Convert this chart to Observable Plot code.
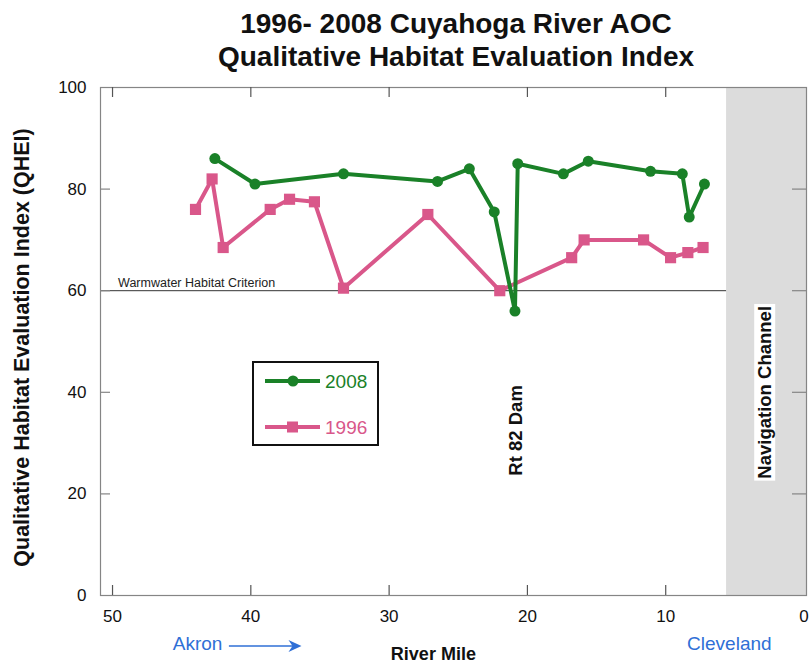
<!DOCTYPE html>
<html>
<head>
<meta charset="utf-8">
<script src="https://cdn.jsdelivr.net/npm/d3@7"></script>
<script src="https://cdn.jsdelivr.net/npm/@observablehq/plot@0.6"></script>
<style>
  body { margin: 0; background: #fff; font-family: "Liberation Sans", Arial, sans-serif; }
  #wrap { position: relative; width: 809px; height: 665px; }
  #title { position: absolute; left: 106px; width: 700px; top: 7px; text-align: center;
           font-weight: bold; font-size: 28px; line-height: 33px; color: #111; }
  #chart { position: absolute; left: 0; top: 0; }
</style>
</head>
<body>
<div id="wrap">
  <div id="chart"></div>
  <div id="title">1996- 2008 Cuyahoga River AOC<br>Qualitative Habitat Evaluation Index</div>
</div>
<script>
// QHEI survey results along the Cuyahoga River (river mile vs. score)
const miles2008 = [42.6, 39.7, 33.3, 26.5, 24.2, 22.4, 20.9, 20.7, 17.4, 15.6, 11.1, 8.8, 8.3, 7.2];
const qhei2008  = [86, 81, 83, 81.5, 84, 75.5, 56, 85, 83, 85.5, 83.5, 83, 74.5, 81];

const miles1996 = [44.0, 42.8, 42.0, 38.6, 37.2, 35.4, 33.3, 27.2, 22.0, 16.8, 15.9, 11.6, 9.65, 8.4, 7.3];
const qhei1996  = [76, 82, 68.5, 76, 78, 77.5, 60.5, 75, 60, 66.5, 70, 70, 66.5, 67.5, 68.5];

const xTickLabels = [50, 40, 30, 20, 10, 0];
const yTickLabels = [0, 20, 40, 60, 80, 100];
const xInnerTicks = [50, 40, 30, 20, 10];
const yInnerTicks = [20, 40, 60, 80];

const criterion = 60;            // warmwater habitat criterion
const navChannelStart = 5.6;     // navigation channel, river mile
const damMile = 20.8;            // Rt 82 dam location
const xDomain = [50.87, -0.18];

const green = "#1a8128";
const pink = "#d9578a";
const blue = "#2f6fd6";
const axisGray = "#858585";

const d2008 = miles2008.map((m, i) => ({mile: m, qhei: qhei2008[i]}));
const d1996 = miles1996.map((m, i) => ({mile: m, qhei: qhei1996[i]}));

const plot = Plot.plot({
  width: 809,
  height: 665,
  marginTop: 87,
  marginBottom: 70,
  marginLeft: 100,
  marginRight: 3,
  x: {domain: xDomain},
  y: {domain: [0, 100]},
  style: {fontFamily: "'Liberation Sans', Arial, sans-serif", color: "#111", background: "transparent"},
  marks: [
    // navigation channel band
    Plot.rect([0], {x1: navChannelStart, x2: xDomain[1], y1: 0, y2: 100, fill: "#dcdcdc"}),
    // criterion line
    Plot.ruleY([criterion], {x1: xDomain[0], x2: navChannelStart, stroke: "#333", strokeWidth: 1}),
    Plot.text(["Warmwater Habitat Criterion"], {x: 49.6, y: criterion, dy: -8, textAnchor: "start", fontSize: 12.5, fill: "#222"}),
    // frame and inward ticks
    Plot.frame({stroke: axisGray, strokeWidth: 1.2}),
    Plot.tickX(xInnerTicks, {x: d => d, insetTop: 498, stroke: "#555", strokeWidth: 1.2}),
    Plot.tickX(xInnerTicks, {x: d => d, insetBottom: 498, stroke: "#555", strokeWidth: 1.2}),
    Plot.tickY(yInnerTicks, {y: d => d, insetRight: 696, stroke: axisGray, strokeWidth: 1.2}),
    Plot.tickY(yInnerTicks, {y: d => d, insetLeft: 692, stroke: axisGray, strokeWidth: 1.2}),
    Plot.axisX(xTickLabels, {anchor: "bottom", tickSize: 0, tickPadding: 14, fontSize: 17, label: null}),
    Plot.axisY(yTickLabels, {anchor: "left", tickSize: 0, tickPadding: 14, fontSize: 17, label: null}),
    // series
    Plot.line(d1996, {x: "mile", y: "qhei", stroke: pink, strokeWidth: 4}),
    Plot.dot(d1996, {x: "mile", y: "qhei", symbol: "square", r: 6.3, fill: pink}),
    Plot.line(d2008, {x: "mile", y: "qhei", stroke: green, strokeWidth: 4}),
    Plot.dot(d2008, {x: "mile", y: "qhei", r: 5.5, fill: green}),
    // annotations
    Plot.text(["Rt 82 Dam"], {x: damMile, y: 32.5, rotate: -90, fontSize: 18.5, fontWeight: "bold", fill: "#111"}),
    Plot.text(["Navigation Channel"], {x: 2.8, y: 40, rotate: -90, fontSize: 18.5, fontWeight: "bold", fill: "#111", className: "nav-label"}),
    Plot.text(["Qualitative Habitat Evaluation Index (QHEI)"], {frameAnchor: "left", textAnchor: "middle", dx: -78, dy: 6, rotate: -90, fontSize: 21.5, fontWeight: "bold", fill: "#111"}),
    Plot.text(["River Mile"], {x: 26.8, frameAnchor: "bottom", dy: 64, fontSize: 18, fontWeight: "bold", fill: "#111"}),
    Plot.text(["Akron"], {x: 43.85, frameAnchor: "bottom", dy: 54, fontSize: 19, fill: blue}),
    Plot.text(["Cleveland"], {x: 5.4, frameAnchor: "bottom", dy: 54, fontSize: 19, fill: blue})
  ]
});

document.getElementById("chart").appendChild(plot);

const svg = d3.select(plot);
const xs = plot.scale("x");

// white box behind the navigation channel label
svg.selectAll("g.nav-label text").each(function () {
  const b = this.getBBox();
  const t = this.getAttribute("transform");
  d3.select(this.parentNode).insert("rect", () => this)
    .attr("transform", t)
    .attr("x", b.x - 2).attr("y", b.y)
    .attr("width", b.width + 4).attr("height", b.height)
    .attr("fill", "#fff");
});

// Akron direction arrow
const arrowY = 646;
const ax1 = xs.apply(41.55), ax2 = xs.apply(36.3);
svg.append("line").attr("x1", ax1).attr("x2", ax2 - 8).attr("y1", arrowY).attr("y2", arrowY)
  .attr("stroke", blue).attr("stroke-width", 1.3);
svg.append("path")
  .attr("d", `M${ax2},${arrowY} L${ax2 - 13},${arrowY - 6} L${ax2 - 9},${arrowY} L${ax2 - 13},${arrowY + 6} Z`)
  .attr("fill", blue);

// legend
const lg = svg.append("g").attr("transform", "translate(253,362)");
lg.append("rect").attr("width", 125).attr("height", 83).attr("fill", "#fff")
  .attr("stroke", "#111").attr("stroke-width", 2);
const entries = [
  {label: "2008", color: green, y: 19, square: false},
  {label: "1996", color: pink, y: 65, square: true}
];
for (const e of entries) {
  lg.append("line").attr("x1", 12).attr("x2", 67).attr("y1", e.y).attr("y2", e.y)
    .attr("stroke", e.color).attr("stroke-width", 4);
  if (e.square) lg.append("rect").attr("x", 34).attr("y", e.y - 5.5).attr("width", 11).attr("height", 11).attr("fill", e.color);
  else lg.append("circle").attr("cx", 40).attr("cy", e.y).attr("r", 5.5).attr("fill", e.color);
  lg.append("text").attr("x", 72).attr("y", e.y).attr("dy", "0.36em")
    .attr("text-anchor", "start").attr("font-size", 19).attr("fill", e.color).text(e.label);
}
</script>
</body>
</html>
